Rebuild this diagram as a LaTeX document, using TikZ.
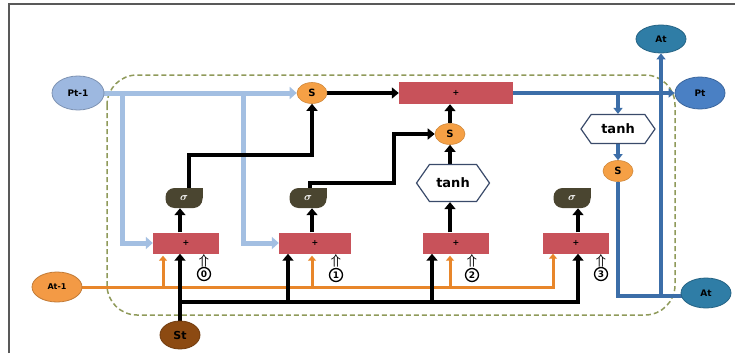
\documentclass[tikz,border=0pt]{standalone}
\usepackage{fontspec}
\setmainfont{DejaVu Sans}
\usetikzlibrary{shapes.geometric,shapes.symbols,arrows.meta,backgrounds}
\definecolor{lbc}{HTML}{A3BFE2}
\definecolor{ptone}{HTML}{9DB8E0}
\definecolor{orc}{HTML}{E8862A}
\definecolor{orf}{HTML}{F39A45}
\definecolor{brn}{HTML}{8C4A12}
\definecolor{sfill}{HTML}{F5A045}
\definecolor{boxf}{HTML}{C8525A}
\definecolor{sig}{HTML}{4A4530}
\definecolor{tealc}{HTML}{2F7DA6}
\definecolor{ptc}{HTML}{4A80C4}
\definecolor{sbc}{HTML}{3C6EA8}
\definecolor{dashc}{HTML}{8F9A5A}
\definecolor{hexc}{HTML}{3A4A6A}
\begin{document}
\begin{tikzpicture}[x=1pt,y=-1pt,
  every node/.style={inner sep=0pt},
  ell/.style={ellipse, fill=#1, draw=#1!80!black, line width=0.8pt},
  sbox/.style={ellipse, fill=sfill, draw=sfill!85!black, line width=0.6pt, minimum width=30, minimum height=21, font={\bfseries\fontsize{10}{10}\selectfont}},
  plusbox/.style={rectangle, fill=boxf, minimum width=#1, minimum height=21, font={\bfseries\fontsize{8}{8}\selectfont}},
  plusbox/.default=66,
  signode/.style={rectangle, rounded corners=9pt, fill=sig, minimum width=37, minimum height=20, text=white, font={\boldmath\fontsize{11}{11}\selectfont}},
  hexnode/.style={signal, signal to=west and east, signal pointer angle=110, draw=hexc, line width=1.2pt, fill=white, font={\bfseries\fontsize{13}{13}\selectfont}},
  cnum/.style={circle, draw, line width=1.3pt, minimum size=13, font={\bfseries\fontsize{9}{9}\selectfont}},
  uparr/.style={font={\boldmath\fontsize{14}{14}\selectfont}},
  blk/.style={line width=4pt, black, -{Triangle[length=7pt,width=11pt]}},
  lbs/.style={line width=5pt, lbc, -{Triangle[length=7pt,width=12pt]}},
  ors/.style={line width=3pt, orc, -{Triangle[length=5pt,width=8pt]}},
  sbs/.style={line width=3.5pt, sbc, -{Triangle[length=6pt,width=9pt]}},
  sbl/.style={line width=3.5pt, sbc}
]
\useasboundingbox (0,0) rectangle (735,353);
% nodes
\node[ell=ptone, minimum width=52, minimum height=34, font={\bfseries\fontsize{9}{9}\selectfont}] (pt1) at (78,93) {Pt-1};
\node[ell=orf, minimum width=50, minimum height=30, font={\bfseries\fontsize{8}{8}\selectfont}] (at1) at (57,287) {At-1};
\node[ell=brn, minimum width=40, minimum height=28, font={\bfseries\fontsize{11}{11}\selectfont}] (st) at (180,335) {St};
\node[sbox] (s1) at (312,93) {S};
\node[sbox] (s2) at (450,134) {S};
\node[sbox] (s3) at (618,171) {S};
\node[plusbox=114, minimum height=22] (big) at (456,93) {+};
\node[plusbox] (b0) at (186,243) {+};
\node[plusbox=72] (b1) at (315,243) {+};
\node[plusbox] (b2) at (456,243) {+};
\node[plusbox] (b3) at (576,243) {+};
\node[signode] (g0) at (184,198) {$\sigma$};
\node[signode] (g1) at (308,198) {$\sigma$};
\node[signode] (g3) at (572,198) {$\sigma$};
\fill[sig] (g0.north east) rectangle ++(-10,10);
\fill[sig] (g1.north east) rectangle ++(-10,10);
\fill[sig] (g3.north east) rectangle ++(-10,10);
\node[hexnode, minimum width=73, minimum height=37] (t1) at (453,183) {tanh};
\node[hexnode, minimum width=74, minimum height=29] (t2) at (618,129) {tanh};
\node[ell=tealc, minimum width=50, minimum height=28, font={\bfseries\fontsize{9}{9}\selectfont}] (atT) at (661,39) {At};
\node[ell=ptc, minimum width=50, minimum height=32, font={\bfseries\fontsize{9}{9}\selectfont}] (pt) at (700,93) {Pt};
\node[ell=tealc, minimum width=50, minimum height=30, font={\bfseries\fontsize{9}{9}\selectfont}] (atB) at (706,293) {At};
\node[uparr] (a0) at (204,261) {$\Uparrow$};
\node[uparr] (a1) at (336,261) {$\Uparrow$};
\node[uparr] (a2) at (472,261) {$\Uparrow$};
\node[uparr] (a3) at (601,261) {$\Uparrow$};
\node[cnum] (c0) at (204,274) {0};
\node[cnum] (c1) at (336,275) {1};
\node[cnum] (c2) at (472,275) {2};
\node[cnum] (c3) at (601,274) {3};
% coordinates
\coordinate (j0) at (122,93);
\coordinate (j1) at (243,93);
\coordinate (k0) at (180,302);
\coordinate (k1) at (288,302);
\coordinate (k2) at (432,302);
\coordinate (k3) at (578,302);
\coordinate (r0) at (189,155);
\coordinate (r1) at (310,183);
\coordinate (r2) at (394,134);
\coordinate (o0) at (163,287);
\coordinate (o1) at (312,287);
\coordinate (o2) at (450,287);
\coordinate (o3) at (553,287);
\coordinate (u) at (618,93);
\coordinate (v) at (661,296);
\begin{pgfonlayer}{background}
\fill[white] (0,0) rectangle (735,353);
\draw[gray!70!black, line width=1.5pt] (9,353) -- (9,4) -- (735,4);
\draw[dashc, line width=1.5pt, dash pattern=on 5pt off 3pt, rounded corners=30pt] (107,75) rectangle (675,315);
% light blue
\draw[lbs] (pt1.east) -- (s1.west);
\draw[lbs] (j0) |- (b0.west);
\draw[lbs] (j1) |- (b1.west);
% orange
\draw[ors] (at1.east) -- (o3) -- (o3 |- b3.south);
\draw[ors, shorten >=2pt] (o0) -- (o0 |- b0.south);
\draw[ors, shorten >=2pt] (o1) -- (o1 |- b1.south);
\draw[ors, shorten >=2pt] (o2) -- (o2 |- b2.south);
% black
\draw[blk] (st.north) -- (st.north |- b0.south);
\draw[blk] (k0) -- (k3) -- (k3 |- b3.south);
\draw[blk] (k1) -- (k1 |- b1.south);
\draw[blk] (k2) -- (k2 |- b2.south);
\draw[blk] (b0.north -| st) -- (g0.south -| st);
\draw[blk] (g0.north -| r0) -- (r0) -| (s1.south);
\draw[blk] (s1.east) -- (big.west);
\draw[blk] (b1.north -| s1) -- (g1.south -| s1);
\draw[blk] (g1.north -| r1) -- (r1) -| (r2) -- (s2.west);
\draw[blk] (b2.north -| s2) -- (t1.south -| s2);
\draw[blk] (t1.north -| s2) -- (s2.south);
\draw[blk] (s2.north) -- (s2.north |- big.south);
\draw[blk] (b3.north -| k3) -- (g3.south -| k3);
% steel blue
\draw[sbs] (big.east) -- (pt.west);
\draw[sbs] (u) -- (t2.north);
\draw[sbs] (t2.south) -- (s3.north);
\draw[sbl] (s3.south) |- (v) -- (v -| atB);
\draw[sbs] (v) -- (atT.south);
\end{pgfonlayer}
\end{tikzpicture}
\end{document}
